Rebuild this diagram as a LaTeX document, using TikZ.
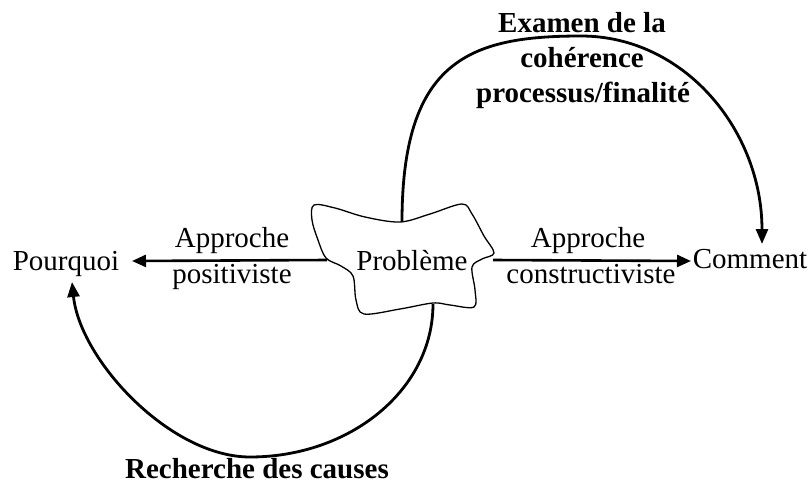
\documentclass[tikz,border=0pt]{standalone}
\usepackage{fontspec}
\setmainfont{Liberation Serif}
\usetikzlibrary{arrows.meta}
\begin{document}
\begin{tikzpicture}[x=1pt,y=-1pt,
  lbl/.style={font=\fontsize{29}{35}\selectfont, inner sep=0pt, anchor=base},
  blbl/.style={font=\fontsize{29}{35}\selectfont\bfseries, inner sep=0pt, align=center},
  conn/.style={line width=2.6pt, -{Triangle[length=14pt,width=12pt]}},
  arc/.style={line width=2.8pt, -{Triangle[length=15pt,width=12pt]}},
  cloudline/.style={line width=1.3pt, line join=round}]
\useasboundingbox (0,0) rectangle (812,485);
% cloud
\draw[cloudline] plot[smooth cycle, tension=0.55] coordinates {
 (314,205) (335,208) (365,217) (400,222) (430,214) (462,204) (472,214)
 (484,236) (494,253) (482,259) (472,267) (475,290) (474,307) (450,305)
 (433,303) (400,309) (364,314) (356,300) (353,276) (341,266) (326,258)
 (318,240) (312,220)};
\coordinate (cl) at (327,260);
\coordinate (cr) at (493,260);
\coordinate (ct) at (402,222);
\coordinate (cb) at (433,304);
\coordinate (apexT) at (581,36);
\coordinate (apexB) at (250,457);
\coordinate (pqe) at (132,261);
\coordinate (pqs) at (72,282);
\coordinate (cmw) at (691,261);
\coordinate (cmn) at (762,244);
% nodes
\node[lbl] (pq) at (66,270) {Pourquoi};
\node[lbl] (cm) at (750,268) {Comment};
\node[lbl] (pb) at (412,270) {Problème};
\node[lbl] (a1) at (232,247) {Approche};
\node[lbl] (p1) at (232,283) {positiviste};
\node[lbl] (a2) at (588,247) {Approche};
\node[lbl] (c2) at (591,283) {constructiviste};
\node[blbl, anchor=base] (t1) at (582,32) {Examen de la};
\node[blbl, anchor=base] (t2) at (582,67) {cohérence};
\node[blbl, anchor=base] (t3) at (583,102) {processus/finalité};
\node[blbl, anchor=base] (rc) at (257,478) {Recherche des causes};
% connectors
\draw[conn] (cl) -- (pqe);
\draw[conn] (cr) -- (cmw);
\draw[arc] (ct) .. controls (402,60) and (470,36) .. (apexT)
  .. controls (684,36) and (762,130) .. (cmn);
\draw[arc] (cb) .. controls (433,390) and (350,457) .. (apexB)
  .. controls (170,457) and (80,360) .. (pqs);
\end{tikzpicture}
\end{document}
